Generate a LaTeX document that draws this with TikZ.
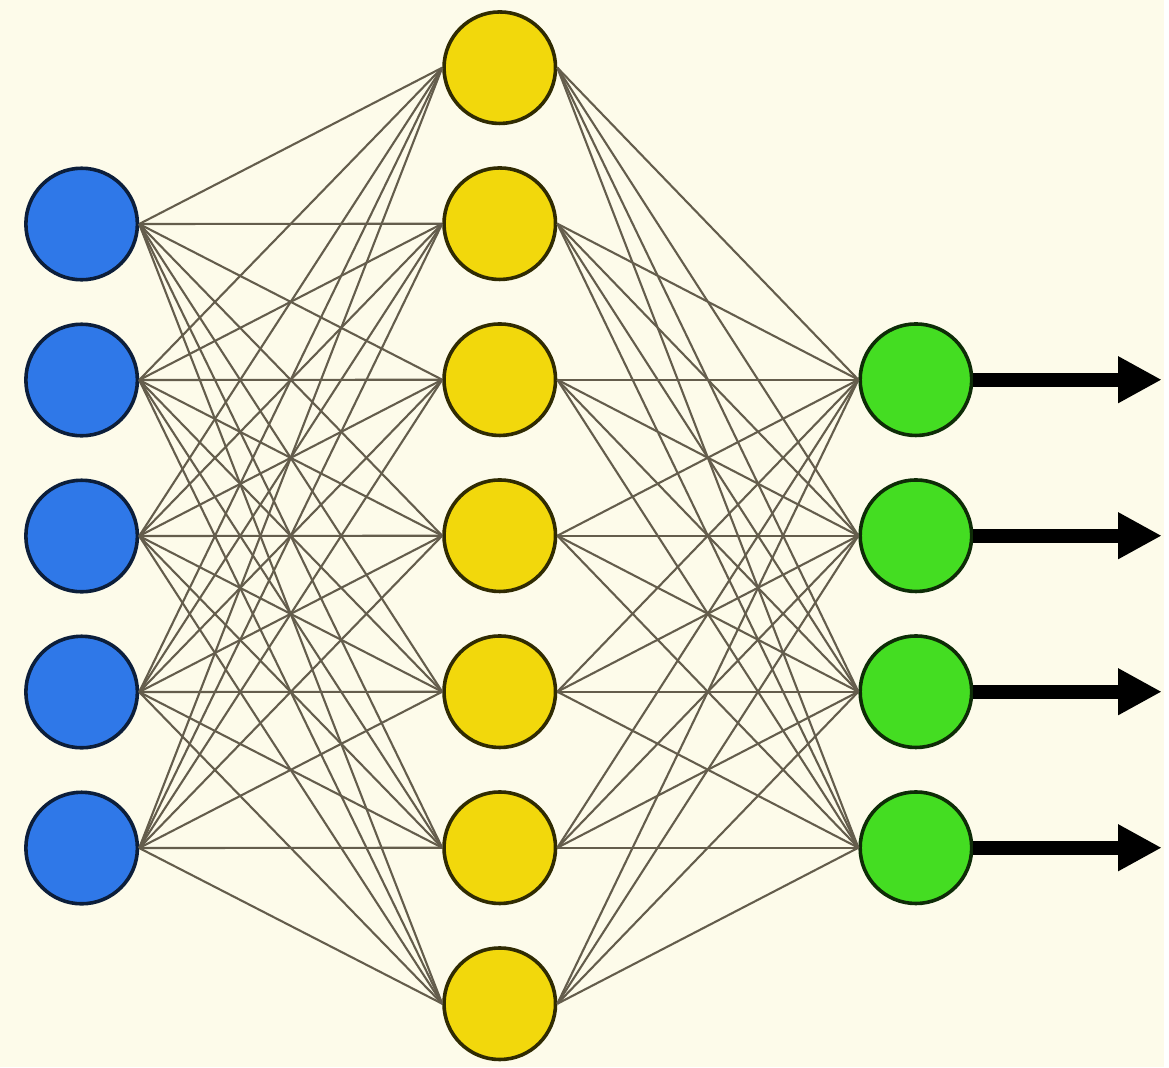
\documentclass[tikz,border=0pt]{standalone}
\usepackage{tikz}
\usetikzlibrary{arrows.meta}

\definecolor{bgcream}{RGB}{253,251,234}
\definecolor{inblue}{RGB}{47,120,232}
\definecolor{hidyellow}{RGB}{242,216,12}
\definecolor{outgreen}{RGB}{68,221,34}
\definecolor{wirebrown}{RGB}{100,93,76}

\begin{document}
\begin{tikzpicture}[x=0.025cm,y=-0.025cm,
  neuron/.style={circle,line width=0.09cm,minimum size=2.8cm,inner sep=0pt},
  input neuron/.style={neuron,fill=inblue,draw=inblue!25!black},
  hidden neuron/.style={neuron,fill=hidyellow,draw=hidyellow!20!black},
  output neuron/.style={neuron,fill=outgreen,draw=outgreen!20!black},
  synapse/.style={draw=wirebrown,line width=1.5pt},
  out arrow/.style={-{Triangle[length=1.1cm,width=1.1cm]},line width=0.36cm,black}]

  % background
  \fill[bgcream] (0,0) rectangle (1169,1072);

  % layers
  \foreach \i in {1,...,5}
    \node[input neuron] (in-\i) at (82,{225+156.7*(\i-1)}) {};
  \foreach \j in {1,...,7}
    \node[hidden neuron] (hid-\j) at (502,{68+156.7*(\j-1)}) {};
  \foreach \k in {1,...,4} {
    \node[output neuron] (out-\k) at (920,{381.4+156.7*(\k-1)}) {};
    \coordinate (tip-\k) at (1167,{381.4+156.7*(\k-1)});
  }

  % connections
  \foreach \i in {1,...,5}
    \foreach \j in {1,...,7}
      \draw[synapse] (in-\i.east) -- (hid-\j.west);
  \foreach \j in {1,...,7}
    \foreach \k in {1,...,4}
      \draw[synapse] (hid-\j.east) -- (out-\k.west);

  % outputs
  \foreach \k in {1,...,4}
    \draw[out arrow] (out-\k.east) -- (tip-\k);
\end{tikzpicture}
\end{document}
